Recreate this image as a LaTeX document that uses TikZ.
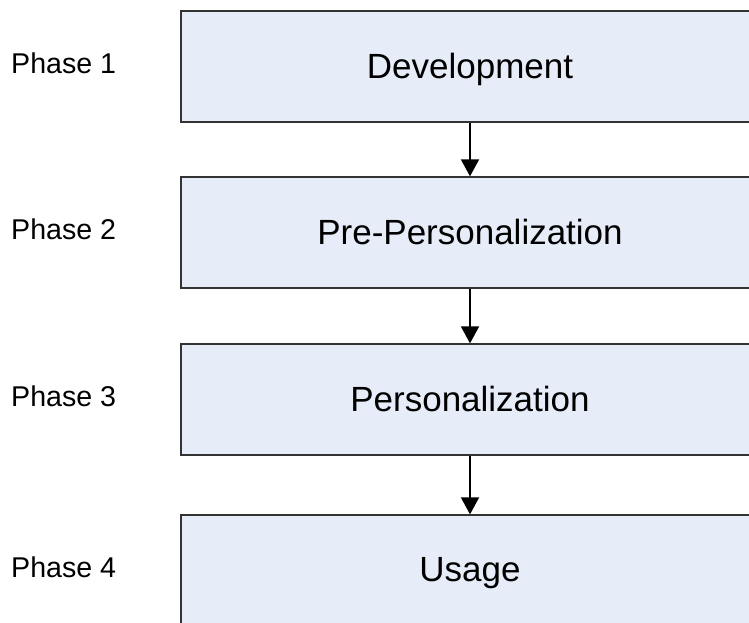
\documentclass[tikz,border=0pt]{standalone}
\usepackage{fontspec}
\setmainfont{Liberation Sans}
\usetikzlibrary{arrows.meta}
\definecolor{boxfill}{HTML}{E6EDF8}
\tikzset{
  phasebox/.style={draw=black!80, line width=1.3pt, fill=boxfill,
    minimum width=578pt, minimum height=111pt, inner sep=0pt, text depth=0.15em,
    font=\fontsize{35}{42}\selectfont},
  phaselabel/.style={anchor=west, inner sep=0pt, font=\fontsize{28.6}{34}\selectfont},
  flow/.style={line width=1.8pt, -{Triangle[length=17pt,width=18pt]}}
}
\begin{document}
\begin{tikzpicture}[x=1pt,y=1pt]
  \useasboundingbox (0,0) rectangle (749,622);
  \node[phasebox] (dev) at (470,555.5) {Development};
  \node[phasebox] (prepers) at (470,389.5) {Pre-Personalization};
  \node[phasebox] (pers) at (470,222.5) {Personalization};
  \node[phasebox] (usage) at (470,51.5) {Usage};
  \node[phaselabel] (p1) at (11,558.5) {Phase 1};
  \node[phaselabel] (p2) at (11,392.5) {Phase 2};
  \node[phaselabel] (p3) at (11,225.5) {Phase 3};
  \node[phaselabel] (p4) at (11,54.5) {Phase 4};
  \draw[flow] (dev) -- (prepers);
  \draw[flow] (prepers) -- (pers);
  \draw[flow] (pers) -- (usage);
\end{tikzpicture}
\end{document}
